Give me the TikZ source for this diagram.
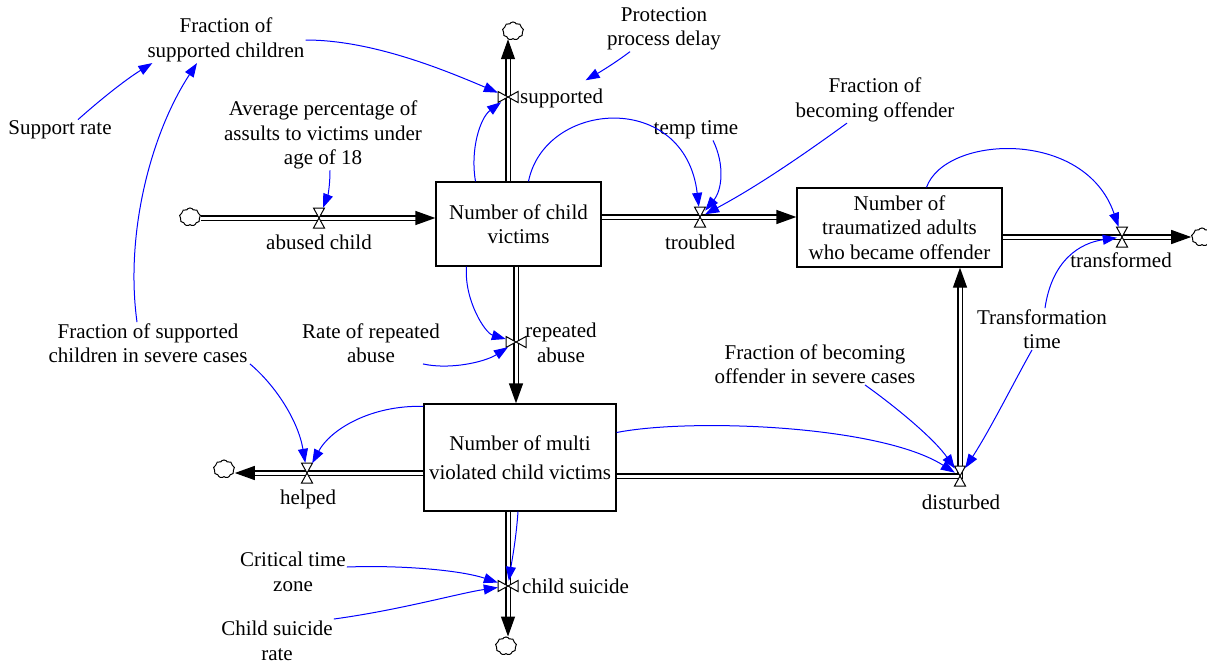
\documentclass[tikz,border=0pt]{standalone}
\usepackage{fontspec}
\setmainfont{Liberation Serif}
\usetikzlibrary{arrows.meta,shapes.symbols}
\begin{document}
\begin{tikzpicture}[x=1pt,y=-1pt,
  txt/.style={font=\fontsize{21}{24.5}\selectfont, align=center, inner sep=1pt},
  stock/.style={txt, draw=black, line width=1.3pt, fill=white, inner sep=0pt},
  cloudn/.style={cloud, cloud puffs=9, cloud puff arc=120, aspect=1.1, draw=black, line width=1pt, minimum width=21pt, minimum height=18pt, inner sep=0pt, fill=white},
  vh/.style={minimum width=10pt, minimum height=20pt, inner sep=0pt},
  vv/.style={minimum width=20pt, minimum height=10pt, inner sep=0pt},
  pipe/.style={draw=black, line width=1.3pt, double=white, double distance=3pt, line join=miter, -{Triangle[length=20pt,width=14pt]}},
  link/.style={draw=blue, line width=1pt, -{Triangle[length=14pt,width=10pt]}},
  valveh/.pic={\filldraw[fill=white,draw=black,line width=1pt] (-5.5,-10)--(5.5,-10)--(0,0)--cycle (-5.5,10)--(5.5,10)--(0,0)--cycle;},
  valvev/.pic={\filldraw[fill=white,draw=black,line width=1pt] (-10,-5.5)--(-10,5.5)--(0,0)--cycle (10,-5.5)--(10,5.5)--(0,0)--cycle;}
]
\useasboundingbox (0,0) rectangle (1207,664);

% stocks
\node[stock, minimum width=165pt, minimum height=84pt] (sV) at (518.5,224) {Number of child\\victims};
\node[stock, minimum width=205pt, minimum height=79pt] (sT) at (899.5,227.5) {Number of\\traumatized adults\\who became offender};
\node[stock, minimum width=192pt, minimum height=107pt] (sM) at (520,457.5) {Number of multi\\[4pt]violated child victims};

% clouds
\node[cloudn] (cA) at (190,217) {};
\node[cloudn] (cS) at (513,31) {};
\node[cloudn] (cTr) at (1202,237) {};
\node[cloudn] (cH) at (224,469) {};
\node[cloudn] (cC) at (506,646) {};

% valves
\node[vh] (vA) at (319,218) {};
\node[vv] (vS) at (508,97) {};
\node[vh] (vT) at (700,217) {};
\node[vh] (vTr) at (1122,237) {};
\node[vv] (vR) at (516,342) {};
\node[vh] (vH) at (307,473) {};
\node[vv] (vCS) at (508,586) {};
\node[vh] (vD) at (960,476) {};

% pipes
\draw[pipe] (cA.east |- vA) -- (vA -| sV.west);
\draw[pipe] (vS |- sV.north) -- (vS |- cS.south);
\draw[pipe] (sV.east |- vT) -- (vT -| sT.west);
\draw[pipe] (sT.east |- vTr) -- (vTr -| cTr.west);
\draw[pipe] (vR |- sV.south) -- (vR |- sM.north);
\draw[pipe] (sM.west |- vH) -- (vH -| cH.east);
\draw[pipe] (vCS |- sM.south) -- (vCS |- cC.north);
\draw[pipe] (sM.east |- vD) -- (vD.center) -- (vD |- sT.south);

% valve glyphs
\pic at (vA) {valveh};
\pic at (vS) {valvev};
\pic at (vT) {valveh};
\pic at (vTr) {valveh};
\pic at (vR) {valvev};
\pic at (vH) {valveh};
\pic at (vCS) {valvev};
\pic at (vD) {valveh};

% flow labels
\node[txt] (lA) at (319,242) {abused child};
\node[txt, anchor=west] (lS) at (519,98) {supported};
\node[txt] (lT) at (700,242) {troubled};
\node[txt] (lTr) at (1121,260) {transformed};
\node[txt] (lR) at (561,343) {repeated\\abuse};
\node[txt] (lH) at (308,499) {helped};
\node[txt] (lD) at (961,502) {disturbed};
\node[txt, anchor=west] (lC) at (521,586) {child suicide};

% auxiliaries
\node[txt] (fSC) at (226,40) {Fraction of\\supported children};
\node[txt] (sr) at (60,130) {Support rate};
\node[txt] (aP) at (323,135) {Average percentage of\\assults to victims under\\age of 18};
\node[txt] (pPD) at (664,29) {Protection\\process delay};
\node[txt] (tt) at (696,130) {temp time};
\node[txt] (fBO) at (875,100) {Fraction of\\becoming offender};
\node[txt] (fSCsev) at (148,343) {Fraction of supported\\children in severe cases};
\node[txt] (rRA) at (371,343) {Rate of repeated\\abuse};
\node[txt] (fBOsev) at (815,364) {Fraction of becoming\\offender in severe cases};
\node[txt] (trT) at (1042,329) {Transformation\\time};
\node[txt] (cTZ) at (293,572) {Critical time\\zone};
\node[txt] (cSR) at (277,641) {Child suicide\\rate};

% links
\draw[link] (fSC.east) .. controls (370,40) and (440,68) .. (vS);
\draw[link] ([xshift=18pt]sr.north) .. controls (100,100) and (125,80) .. ([xshift=6pt]fSC.south west);
\draw[link] ([xshift=-11pt]fSCsev.north) .. controls (125,235) and (150,135) .. ([xshift=-29pt]fSC.south);
\draw[link] ([xshift=-43pt]sV.north) .. controls (470,150) and (480,118) .. (vS);
\draw[link] ([xshift=-34pt]pPD.south) .. controls (615,63) and (600,72) .. ([xshift=24pt,yshift=7pt]lS.north);
\draw[link] ([xshift=7pt]aP.south) .. controls (330,185) and (328,195) .. (vA);
\draw[link] ([xshift=10pt]sV.north) .. controls (545,100) and (685,90) .. (vT);
\draw[link] ([xshift=17pt]tt.south) .. controls (725,165) and (722,190) .. (vT);
\draw[link] ([xshift=-28pt]fBO.south) .. controls (810,150) and (760,185) .. (vT);
\draw[link] ([xshift=27pt]sT.north) .. controls (945,135) and (1085,128) .. (vTr);
\draw[link] ([xshift=3pt]trT.north) .. controls (1052,260) and (1080,243) .. (vTr);
\draw[link] ([xshift=-10pt]trT.south) .. controls (1015,380) and (990,430) .. (vD);
\draw[link] ([xshift=-52pt]sV.south) .. controls (464,300) and (485,333) .. (vR);
\draw[link] ([xshift=52pt]rRA.south) .. controls (450,370) and (485,362) .. (vR);
\draw[link] ([xshift=102pt]fSCsev.south) .. controls (275,385) and (298,420) .. (vH);
\draw[link] ([yshift=-3pt]sM.north west) .. controls (370,405) and (330,430) .. (vH);
\draw[link] ([yshift=25pt]sM.east) .. controls (690,418) and (880,425) .. (vD);
\draw[link] ([xshift=50pt]fBOsev.south) .. controls (900,410) and (935,440) .. (vD);
\draw[link] ([xshift=-2pt]sM.south) .. controls (516,540) and (512,560) .. (vCS);
\draw[link] ([yshift=5pt]cTZ.east) .. controls (400,565) and (460,570) .. (vCS);
\draw[link] ([yshift=22pt]cSR.east) .. controls (400,610) and (460,593) .. (vCS);
\end{tikzpicture}
\end{document}
